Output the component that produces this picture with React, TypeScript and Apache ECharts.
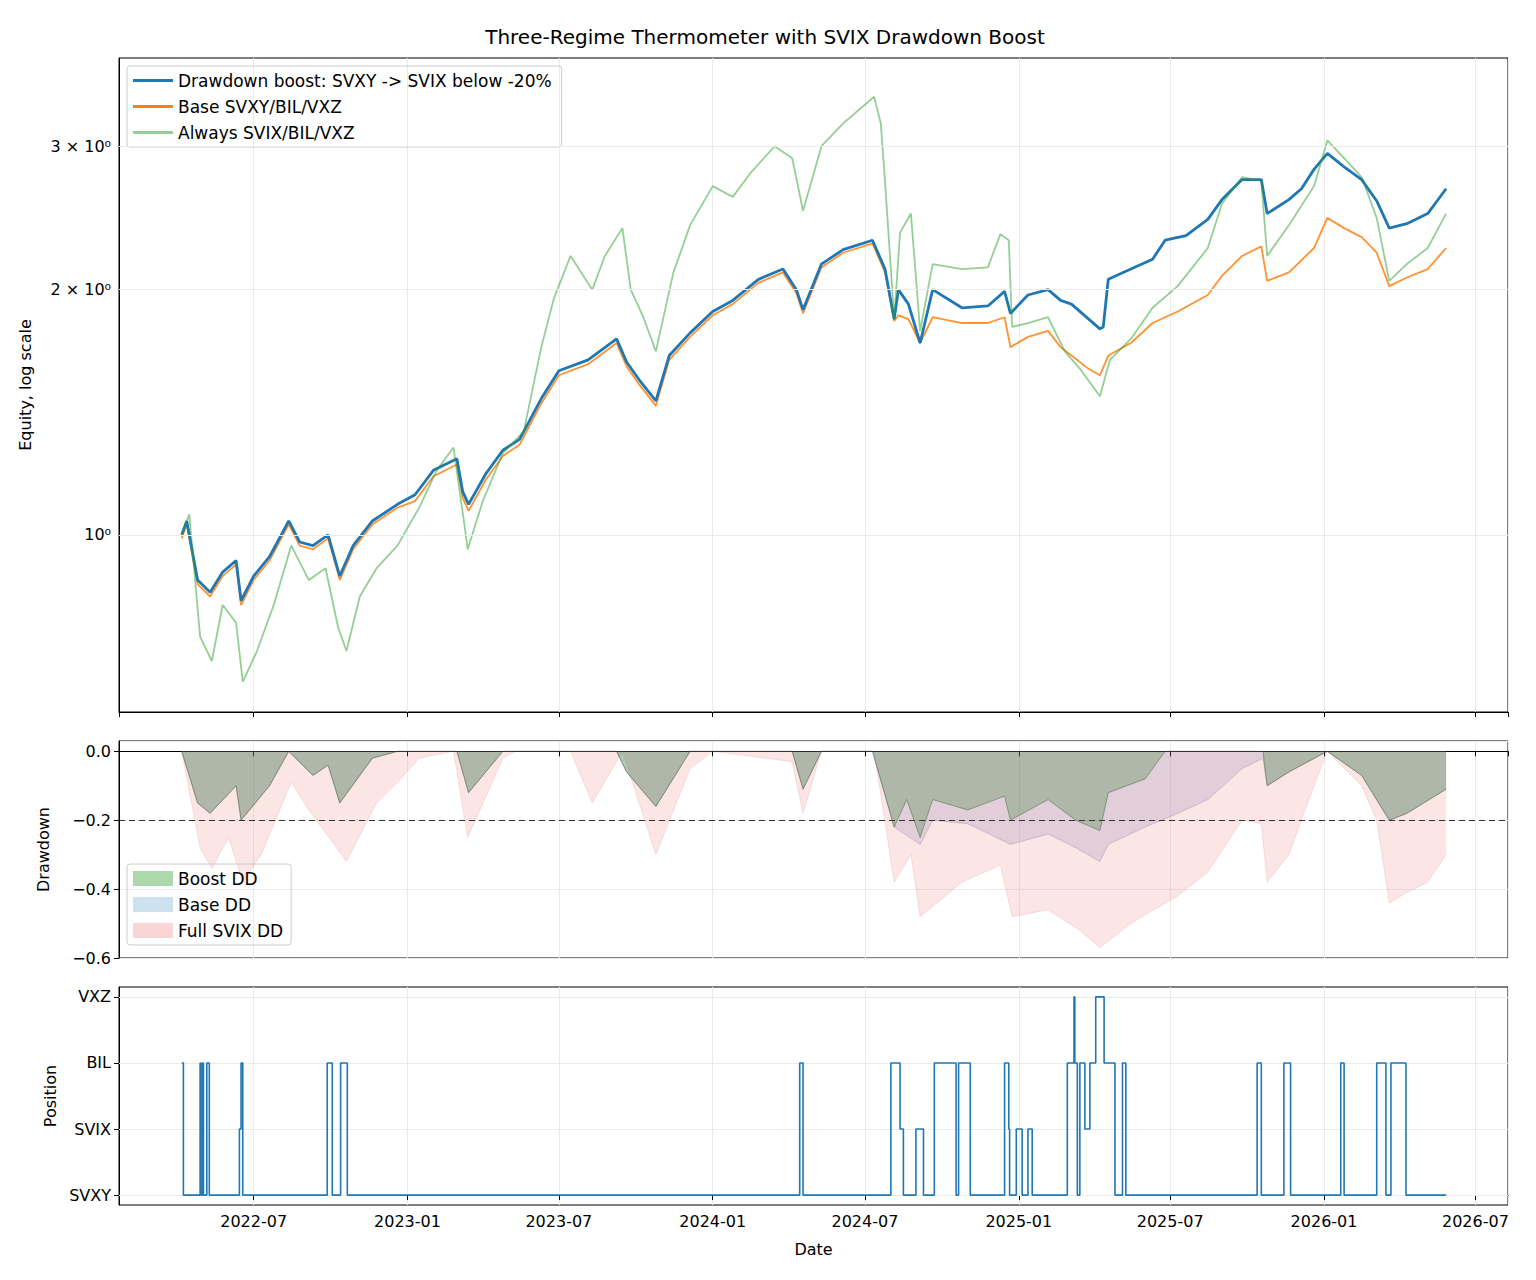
import React, { useEffect, useRef } from 'react';
import * as echarts from 'echarts';

const boostEquity: [string, number][] = [
  ['2022-04-06', 1.0], ['2022-04-12', 1.04], ['2022-04-25', 0.88], ['2022-05-10', 0.85], ['2022-05-25', 0.9],
  ['2022-06-10', 0.93], ['2022-06-16', 0.83], ['2022-07-01', 0.89], ['2022-07-20', 0.94], ['2022-08-12', 1.04],
  ['2022-08-25', 0.98], ['2022-09-10', 0.97], ['2022-09-28', 1.0], ['2022-10-12', 0.89], ['2022-10-28', 0.97],
  ['2022-11-20', 1.04], ['2022-12-20', 1.09], ['2023-01-10', 1.12], ['2023-02-01', 1.2], ['2023-03-01', 1.24],
  ['2023-03-08', 1.13], ['2023-03-15', 1.09], ['2023-04-05', 1.19], ['2023-04-25', 1.27], ['2023-05-15', 1.31],
  ['2023-06-10', 1.47], ['2023-07-01', 1.59], ['2023-08-05', 1.64], ['2023-09-08', 1.74], ['2023-09-20', 1.63],
  ['2023-10-05', 1.55], ['2023-10-25', 1.46], ['2023-11-10', 1.66], ['2023-12-05', 1.77], ['2024-01-01', 1.88],
  ['2024-01-25', 1.94], ['2024-02-25', 2.06], ['2024-03-25', 2.12], ['2024-04-10', 2.0], ['2024-04-18', 1.89],
  ['2024-05-10', 2.15], ['2024-06-05', 2.24], ['2024-07-10', 2.3], ['2024-07-25', 2.12], ['2024-08-05', 1.84],
  ['2024-08-10', 2.0], ['2024-08-22', 1.92], ['2024-09-05', 1.72], ['2024-09-20', 2.0], ['2024-10-25', 1.9],
  ['2024-11-25', 1.91], ['2024-12-15', 1.99], ['2024-12-22', 1.87], ['2025-01-12', 1.97], ['2025-02-05', 2.0],
  ['2025-02-20', 1.94], ['2025-03-05', 1.92], ['2025-04-08', 1.79], ['2025-04-12', 1.8], ['2025-04-18', 2.06],
  ['2025-05-15', 2.12], ['2025-06-10', 2.18], ['2025-06-25', 2.3], ['2025-07-20', 2.33], ['2025-08-15', 2.44],
  ['2025-09-01', 2.58], ['2025-09-25', 2.73], ['2025-10-18', 2.73], ['2025-10-25', 2.48], ['2025-11-20', 2.58],
  ['2025-12-05', 2.66], ['2025-12-20', 2.81], ['2026-01-05', 2.94], ['2026-01-25', 2.83], ['2026-02-15', 2.73],
  ['2026-03-05', 2.57], ['2026-03-20', 2.38], ['2026-04-10', 2.41], ['2026-05-05', 2.48], ['2026-05-27', 2.66],
];

const baseEquity: [string, number][] = [
  ['2022-04-06', 0.99], ['2022-04-12', 1.03], ['2022-04-25', 0.87], ['2022-05-10', 0.84], ['2022-05-25', 0.89],
  ['2022-06-10', 0.92], ['2022-06-16', 0.82], ['2022-07-01', 0.88], ['2022-07-20', 0.93], ['2022-08-12', 1.03],
  ['2022-08-25', 0.97], ['2022-09-10', 0.96], ['2022-09-28', 0.99], ['2022-10-12', 0.88], ['2022-10-28', 0.96],
  ['2022-11-20', 1.03], ['2022-12-20', 1.08], ['2023-01-10', 1.1], ['2023-02-01', 1.18], ['2023-03-01', 1.22],
  ['2023-03-08', 1.11], ['2023-03-15', 1.07], ['2023-04-05', 1.17], ['2023-04-25', 1.25], ['2023-05-15', 1.29],
  ['2023-06-10', 1.45], ['2023-07-01', 1.57], ['2023-08-05', 1.62], ['2023-09-08', 1.72], ['2023-09-20', 1.61],
  ['2023-10-05', 1.53], ['2023-10-25', 1.44], ['2023-11-10', 1.64], ['2023-12-05', 1.75], ['2024-01-01', 1.86],
  ['2024-01-25', 1.92], ['2024-02-25', 2.04], ['2024-03-25', 2.1], ['2024-04-10', 1.98], ['2024-04-18', 1.87],
  ['2024-05-10', 2.13], ['2024-06-05', 2.22], ['2024-07-10', 2.28], ['2024-07-25', 2.1], ['2024-08-05', 1.83],
  ['2024-08-10', 1.86], ['2024-08-22', 1.84], ['2024-09-05', 1.72], ['2024-09-20', 1.85], ['2024-10-25', 1.82],
  ['2024-11-25', 1.82], ['2024-12-15', 1.85], ['2024-12-22', 1.7], ['2025-01-12', 1.75], ['2025-02-05', 1.78],
  ['2025-02-20', 1.7], ['2025-03-05', 1.66], ['2025-03-25', 1.6], ['2025-04-08', 1.57], ['2025-04-18', 1.66],
  ['2025-05-15', 1.72], ['2025-06-10', 1.82], ['2025-07-10', 1.88], ['2025-08-15', 1.97], ['2025-09-01', 2.08],
  ['2025-09-25', 2.2], ['2025-10-18', 2.26], ['2025-10-25', 2.05], ['2025-11-20', 2.1], ['2025-12-20', 2.25],
  ['2026-01-05', 2.45], ['2026-01-25', 2.38], ['2026-02-15', 2.32], ['2026-03-05', 2.22], ['2026-03-20', 2.02],
  ['2026-04-10', 2.07], ['2026-05-05', 2.12], ['2026-05-27', 2.25],
];

const svixEquity: [string, number][] = [
  ['2022-04-06', 1.0], ['2022-04-15', 1.06], ['2022-04-28', 0.75], ['2022-05-12', 0.7], ['2022-05-25', 0.82],
  ['2022-06-10', 0.78], ['2022-06-18', 0.66], ['2022-07-05', 0.72], ['2022-07-25', 0.82], ['2022-08-15', 0.97],
  ['2022-09-05', 0.88], ['2022-09-25', 0.91], ['2022-10-10', 0.77], ['2022-10-20', 0.72], ['2022-11-05', 0.84],
  ['2022-11-25', 0.91], ['2022-12-20', 0.97], ['2023-01-15', 1.08], ['2023-02-05', 1.2], ['2023-02-25', 1.28],
  ['2023-03-10', 1.03], ['2023-03-14', 0.96], ['2023-04-01', 1.1], ['2023-04-25', 1.26], ['2023-05-20', 1.34],
  ['2023-06-10', 1.7], ['2023-06-25', 1.95], ['2023-07-15', 2.2], ['2023-08-10', 2.0], ['2023-08-25', 2.2],
  ['2023-09-15', 2.38], ['2023-09-25', 2.0], ['2023-10-10', 1.85], ['2023-10-25', 1.68], ['2023-11-15', 2.1],
  ['2023-12-05', 2.4], ['2024-01-01', 2.68], ['2024-01-25', 2.6], ['2024-02-15', 2.78], ['2024-03-15', 3.0],
  ['2024-04-05', 2.9], ['2024-04-18', 2.5], ['2024-05-10', 3.0], ['2024-06-05', 3.2], ['2024-07-12', 3.45],
  ['2024-07-20', 3.2], ['2024-07-25', 2.72], ['2024-08-05', 1.84], ['2024-08-12', 2.35], ['2024-08-25', 2.48],
  ['2024-09-05', 1.78], ['2024-09-20', 2.15], ['2024-10-25', 2.12], ['2024-11-25', 2.13], ['2024-12-10', 2.34],
  ['2024-12-20', 2.3], ['2024-12-24', 1.8], ['2025-01-12', 1.82], ['2025-02-05', 1.85], ['2025-02-25', 1.68],
  ['2025-03-15', 1.6], ['2025-04-08', 1.48], ['2025-04-20', 1.64], ['2025-05-15', 1.74], ['2025-06-10', 1.9],
  ['2025-07-10', 2.02], ['2025-08-15', 2.25], ['2025-09-01', 2.55], ['2025-09-25', 2.75], ['2025-10-18', 2.72],
  ['2025-10-25', 2.2], ['2025-11-20', 2.4], ['2025-12-20', 2.68], ['2026-01-05', 3.05], ['2026-01-25', 2.9],
  ['2026-02-15', 2.75], ['2026-03-05', 2.45], ['2026-03-20', 2.05], ['2026-04-10', 2.15], ['2026-05-05', 2.25],
  ['2026-05-27', 2.48],
];

const boostDD: [string, number][] = [
  ['2022-04-06', 0], ['2022-04-25', -0.15], ['2022-05-10', -0.18], ['2022-06-10', -0.1], ['2022-06-16', -0.2],
  ['2022-07-20', -0.1], ['2022-08-12', 0], ['2022-09-10', -0.07], ['2022-09-28', -0.04], ['2022-10-12', -0.15],
  ['2022-11-20', -0.02], ['2022-12-20', 0], ['2023-03-01', 0], ['2023-03-15', -0.12], ['2023-04-25', 0],
  ['2023-09-08', 0], ['2023-09-20', -0.06], ['2023-10-25', -0.16], ['2023-12-05', 0], ['2024-04-05', 0],
  ['2024-04-18', -0.11], ['2024-05-10', 0], ['2024-07-10', 0], ['2024-08-05', -0.22], ['2024-08-20', -0.14],
  ['2024-09-05', -0.25], ['2024-09-20', -0.14], ['2024-11-01', -0.17], ['2024-12-15', -0.13], ['2024-12-22', -0.2],
  ['2025-02-05', -0.14], ['2025-03-10', -0.2], ['2025-04-08', -0.23], ['2025-04-18', -0.12], ['2025-06-01', -0.08],
  ['2025-06-25', 0], ['2025-10-20', 0], ['2025-10-25', -0.1], ['2025-11-20', -0.06], ['2026-01-05', 0],
  ['2026-02-15', -0.07], ['2026-03-20', -0.2], ['2026-04-10', -0.18], ['2026-05-27', -0.11],
];

const baseDD: [string, number][] = [
  ['2022-04-06', 0], ['2022-04-25', -0.15], ['2022-05-10', -0.18], ['2022-06-10', -0.1], ['2022-06-16', -0.2],
  ['2022-07-20', -0.1], ['2022-08-12', 0], ['2022-09-10', -0.07], ['2022-09-28', -0.04], ['2022-10-12', -0.15],
  ['2022-11-20', -0.02], ['2022-12-20', 0], ['2023-03-01', 0], ['2023-03-15', -0.12], ['2023-04-25', 0],
  ['2023-09-08', 0], ['2023-09-20', -0.06], ['2023-10-25', -0.16], ['2023-12-05', 0], ['2024-04-05', 0],
  ['2024-04-18', -0.11], ['2024-05-10', 0], ['2024-07-10', 0], ['2024-08-05', -0.22], ['2024-09-05', -0.27],
  ['2024-09-20', -0.2], ['2024-11-01', -0.21], ['2024-12-22', -0.27], ['2025-02-05', -0.24], ['2025-03-10', -0.28],
  ['2025-04-08', -0.32], ['2025-04-18', -0.27], ['2025-06-01', -0.22], ['2025-07-10', -0.18], ['2025-08-15', -0.14],
  ['2025-09-25', -0.05], ['2025-10-20', -0.02], ['2025-10-25', -0.1], ['2025-11-20', -0.06], ['2026-01-05', 0],
  ['2026-02-15', -0.07], ['2026-03-20', -0.2], ['2026-04-10', -0.18], ['2026-05-27', -0.11],
];

const svixDD: [string, number][] = [
  ['2022-04-06', 0], ['2022-04-28', -0.28], ['2022-05-12', -0.34], ['2022-06-01', -0.25], ['2022-06-18', -0.38],
  ['2022-07-10', -0.3], ['2022-08-15', -0.09], ['2022-09-05', -0.17], ['2022-10-20', -0.32], ['2022-11-25', -0.15],
  ['2022-12-20', -0.09], ['2023-01-15', -0.02], ['2023-02-25', 0], ['2023-03-14', -0.25], ['2023-04-25', -0.02],
  ['2023-05-10', 0], ['2023-07-15', 0], ['2023-08-10', -0.15], ['2023-09-15', 0], ['2023-10-25', -0.3],
  ['2023-12-05', -0.05], ['2024-01-01', 0], ['2024-04-05', -0.03], ['2024-04-18', -0.18], ['2024-05-10', 0],
  ['2024-07-12', 0], ['2024-08-05', -0.38], ['2024-08-25', -0.3], ['2024-09-05', -0.48], ['2024-10-25', -0.38],
  ['2024-12-10', -0.33], ['2024-12-24', -0.48], ['2025-02-05', -0.46], ['2025-03-15', -0.52], ['2025-04-08', -0.57],
  ['2025-05-15', -0.5], ['2025-07-10', -0.42], ['2025-08-15', -0.35], ['2025-09-25', -0.2], ['2025-10-18', -0.21],
  ['2025-10-25', -0.38], ['2025-11-20', -0.3], ['2025-12-20', -0.1], ['2026-01-05', 0], ['2026-02-15', -0.1],
  ['2026-03-05', -0.2], ['2026-03-20', -0.44], ['2026-04-10', -0.41], ['2026-05-05', -0.38], ['2026-05-27', -0.3],
];

const positionLabels = ['SVXY', 'SVIX', 'BIL', 'VXZ'];
const positionTicks = [0, 1, 2, 3];
const positions: [string, number][] = [
  ['2022-04-06', 2], ['2022-04-08', 0], ['2022-04-28', 2], ['2022-04-29', 0], ['2022-05-01', 2], ['2022-05-02', 0],
  ['2022-05-06', 2], ['2022-05-09', 0], ['2022-06-14', 1], ['2022-06-16', 2], ['2022-06-18', 0], ['2022-09-27', 2],
  ['2022-10-03', 0], ['2022-10-13', 2], ['2022-10-21', 0], ['2024-04-14', 2], ['2024-04-18', 0], ['2024-08-01', 2],
  ['2024-08-12', 1], ['2024-08-16', 0], ['2024-08-31', 1], ['2024-09-09', 0], ['2024-09-22', 2], ['2024-10-18', 0],
  ['2024-10-21', 2], ['2024-11-04', 0], ['2024-12-15', 2], ['2024-12-20', 1], ['2024-12-21', 0], ['2024-12-29', 1],
  ['2025-01-05', 0], ['2025-01-12', 1], ['2025-01-17', 0], ['2025-02-28', 2], ['2025-03-08', 3], ['2025-03-09', 2],
  ['2025-03-12', 0], ['2025-03-15', 2], ['2025-03-21', 1], ['2025-03-27', 2], ['2025-04-03', 3], ['2025-04-13', 2],
  ['2025-04-26', 0], ['2025-05-05', 2], ['2025-05-09', 0], ['2025-10-13', 2], ['2025-10-18', 0], ['2025-11-14', 2],
  ['2025-11-22', 0], ['2026-01-21', 2], ['2026-01-25', 0], ['2026-03-05', 2], ['2026-03-16', 0], ['2026-03-22', 2],
  ['2026-04-09', 0], ['2026-05-27', 0],
];

const equityTicks: [number, string][] = [[1, '10⁰'], [2, '2 × 10⁰'], [3, '3 × 10⁰']];

const FONT = 'DejaVu Sans';
const X_MIN = new Date('2022-01-21').getTime();
const X_MAX = new Date('2026-08-09').getTime();
const GRID_LEFT = 111;
const GRID_WIDTH = 1389;

const App: React.FC = () => {
  const chartRef = useRef<HTMLDivElement | null>(null);

  useEffect(() => {
    if (!chartRef.current) return;
    const chart = echarts.init(chartRef.current, undefined, { renderer: 'svg' });

    const xAxisBase = (idx: number, showLabel: boolean) => ({
      type: 'time',
      gridIndex: idx,
      min: X_MIN,
      max: X_MAX,
      minInterval: 180 * 86400000,
      maxInterval: 185 * 86400000,
      axisLine: { lineStyle: { color: '#000', width: 1 } },
      axisTick: { show: true, length: 5, lineStyle: { color: '#000' } },
      axisLabel: {
        show: showLabel,
        color: '#000',
        fontSize: 16,
        fontFamily: FONT,
        formatter: '{yyyy}-{MM}',
        hideOverlap: false,
        showMinLabel: false,
        showMaxLabel: false,
      },
      splitLine: { show: true, lineStyle: { color: '#ebebeb', width: 1 } },
      name: showLabel ? 'Date' : '',
      nameLocation: 'middle',
      nameGap: 36,
      nameTextStyle: { color: '#000', fontSize: 16, fontFamily: FONT },
    });

    const legendBase = {
      orient: 'vertical',
      left: 119,
      itemGap: 9,
      itemWidth: 40,
      padding: [6, 8, 6, 6],
      borderColor: '#ccc',
      borderWidth: 1,
      borderRadius: 3,
      icon: 'rect',
      textStyle: { fontSize: 17, color: '#000', fontFamily: FONT },
    };

    const option = {
      animation: false,
      backgroundColor: '#fff',
      title: {
        text: 'Three-Regime Thermometer with SVIX Drawdown Boost',
        left: 752,
        top: 14,
        textAlign: 'center',
        textStyle: { fontSize: 20, fontWeight: 'normal', color: '#000', fontFamily: FONT },
      },
      legend: [
        {
          ...legendBase,
          data: ['Drawdown boost: SVXY -> SVIX below -20%', 'Base SVXY/BIL/VXZ', 'Always SVIX/BIL/VXZ'],
          top: 58,
          itemHeight: 3,
          padding: [6, 10, 6, 6],
        },
        {
          ...legendBase,
          data: ['Boost DD', 'Base DD', 'Full SVIX DD'],
          top: 856,
          itemHeight: 15,
        },
      ],
      grid: [
        { left: GRID_LEFT, top: 50, width: GRID_WIDTH, height: 654, show: true, borderColor: '#000', borderWidth: 1 },
        { left: GRID_LEFT, top: 733, width: GRID_WIDTH, height: 217, show: true, borderColor: '#000', borderWidth: 1 },
        { left: GRID_LEFT, top: 979, width: GRID_WIDTH, height: 218, show: true, borderColor: '#000', borderWidth: 1 },
      ],
      xAxis: [xAxisBase(0, false), xAxisBase(1, false), xAxisBase(2, true)],
      yAxis: [
        {
          type: 'log',
          logBase: 10,
          gridIndex: 0,
          min: 0.606,
          max: 3.85,
          axisLine: { show: true, lineStyle: { color: '#000' } },
          axisTick: { show: false },
          axisLabel: { show: false },
          splitLine: { show: false },
          name: 'Equity, log scale',
          nameLocation: 'middle',
          nameGap: 86,
          nameTextStyle: { color: '#000', fontSize: 16, fontFamily: FONT },
        },
        {
          type: 'value',
          gridIndex: 1,
          min: -0.6,
          max: 0.03,
          interval: 0.2,
          axisLine: { show: true, lineStyle: { color: '#000' } },
          axisTick: { show: true, length: 5, lineStyle: { color: '#000' } },
          axisLabel: {
            color: '#000',
            fontSize: 16,
            fontFamily: FONT,
            formatter: (v: number) => (Math.abs(v) < 1e-9 ? '0.0' : '\u2212' + Math.abs(v).toFixed(1)),
          },
          splitLine: { show: true, lineStyle: { color: '#ebebeb' } },
          name: 'Drawdown',
          nameLocation: 'middle',
          nameGap: 68,
          nameTextStyle: { color: '#000', fontSize: 16, fontFamily: FONT },
        },
        {
          type: 'value',
          gridIndex: 2,
          min: -0.15,
          max: 3.15,
          axisLine: { show: true, lineStyle: { color: '#000' } },
          axisTick: { show: true, length: 5, lineStyle: { color: '#000' }, customValues: positionTicks },
          axisLabel: {
            color: '#000',
            fontSize: 16,
            fontFamily: FONT,
            customValues: positionTicks,
            formatter: (v: number) => positionLabels[Math.round(v)] ?? '',
          },
          splitLine: { show: false },
          name: 'Position',
          nameLocation: 'middle',
          nameGap: 56,
          nameTextStyle: { color: '#000', fontSize: 16, fontFamily: FONT },
        },
      ],
      series: [
        {
          name: 'Base SVXY/BIL/VXZ',
          type: 'line',
          xAxisIndex: 0,
          yAxisIndex: 0,
          data: baseEquity,
          showSymbol: false,
          color: '#ff7f0e',
          lineStyle: { width: 1.8, opacity: 0.85 },
          z: 2,
        },
        {
          name: 'Drawdown boost: SVXY -> SVIX below -20%',
          type: 'line',
          xAxisIndex: 0,
          yAxisIndex: 0,
          data: boostEquity,
          showSymbol: false,
          color: '#1f77b4',
          lineStyle: { width: 2.8 },
          z: 3,
          markLine: {
            silent: true,
            symbol: 'none',
            lineStyle: { color: '#ebebeb', width: 1, type: 'solid' },
            label: {
              position: 'start',
              color: '#000',
              fontSize: 16,
              fontFamily: FONT,
              distance: 8,
              formatter: (p: any) => p.name,
            },
            data: equityTicks.map(([v, l]) => ({ yAxis: v, name: l })),
          },
        },
        {
          name: 'Always SVIX/BIL/VXZ',
          type: 'line',
          xAxisIndex: 0,
          yAxisIndex: 0,
          data: svixEquity,
          showSymbol: false,
          color: 'rgba(44,160,44,0.5)',
          lineStyle: { width: 1.8 },
          z: 4,
        },
        {
          name: 'Full SVIX DD',
          type: 'line',
          xAxisIndex: 1,
          yAxisIndex: 1,
          data: svixDD,
          showSymbol: false,
          color: 'rgba(240,150,150,0.4)',
          lineStyle: { width: 0.8, color: 'rgba(214,39,40,0.15)' },
          areaStyle: { color: 'rgba(235,120,120,0.28)', origin: 'auto' },
          z: 2,
        },
        {
          name: 'Base DD',
          type: 'line',
          xAxisIndex: 1,
          yAxisIndex: 1,
          data: baseDD,
          showSymbol: false,
          color: 'rgba(31,119,180,0.22)',
          lineStyle: { width: 0.8, color: 'rgba(100,80,140,0.3)' },
          areaStyle: { color: 'rgba(90,80,150,0.22)', origin: 'auto' },
          z: 3,
        },
        {
          name: 'Boost DD',
          type: 'line',
          xAxisIndex: 1,
          yAxisIndex: 1,
          data: boostDD,
          showSymbol: false,
          color: 'rgba(44,160,44,0.4)',
          lineStyle: { width: 0.8, color: 'rgba(60,100,60,0.6)' },
          areaStyle: { color: 'rgba(50,130,50,0.42)', origin: 'auto' },
          z: 4,
          markLine: {
            silent: true,
            symbol: 'none',
            label: { show: false },
            lineStyle: { color: '#333', width: 1.2, type: [6, 4] },
            data: [{ yAxis: -0.2 }],
          },
        },
        {
          name: 'Position',
          type: 'line',
          xAxisIndex: 2,
          yAxisIndex: 2,
          data: positions,
          step: 'end',
          showSymbol: false,
          color: '#1f77b4',
          lineStyle: { width: 1.6 },
          markLine: {
            silent: true,
            symbol: 'none',
            label: { show: false },
            lineStyle: { color: '#ebebeb', width: 1, type: 'solid' },
            data: positionTicks.map((v) => ({ yAxis: v })),
            z: 1,
          },
        },
      ],
    };

    chart.setOption(option as any);
    return () => {
      chart.dispose();
    };
  }, []);

  return <div ref={chartRef} style={{ width: '1520px', height: '1264px' }} />;
};

export default App;
